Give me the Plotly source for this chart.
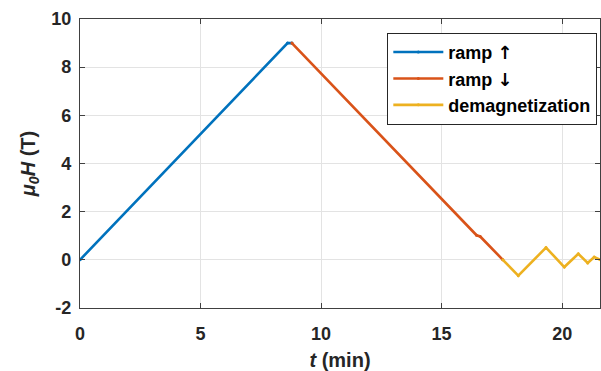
import plotly.graph_objects as go

# Data
t_up = [0.0, 8.61, 8.79]
h_up = [0.0, 9.0, 9.0]
t_down = [8.79, 16.45, 16.60, 17.54]
h_down = [9.0, 1.02, 0.97, 0.0]
t_demag = [17.54, 18.18, 19.33, 20.09, 20.67, 21.06, 21.33, 21.62]
h_demag = [0.0, -0.66, 0.51, -0.30, 0.25, -0.13, 0.12, -0.02]

x_ticks = [0, 5, 10, 15, 20]
y_ticks = [-2, 0, 2, 4, 6, 8, 10]
y_tick_labels = ["-2", "0", "2", "4", "6", "8", "10"]

blue = "#0072BD"
red = "#D95319"
yellow = "#EDB120"
axis_col = "#404040"
grid_col = "#E3E3E3"
font_family = "Liberation Sans, Arial, sans-serif"
arrow_style = "font-family:'DejaVu Sans'"

fig = go.Figure()
fig.add_trace(go.Scatter(x=t_up, y=h_up, mode="lines+markers",
                         name=f"<b>ramp <span style=\"{arrow_style}\">↑</span></b>",
                         line=dict(color=blue, width=2.6), marker=dict(size=3, color=blue)))
fig.add_trace(go.Scatter(x=t_down, y=h_down, mode="lines+markers",
                         name=f"<b>ramp <span style=\"{arrow_style}\">↓</span></b>",
                         line=dict(color=red, width=2.6), marker=dict(size=3, color=red)))
fig.add_trace(go.Scatter(x=t_demag, y=h_demag, mode="lines+markers", name="<b>demagnetization</b>",
                         line=dict(color=yellow, width=2.6), marker=dict(size=3, color=yellow)))

axis_common = dict(
    showline=True, linecolor=axis_col, linewidth=1.2, mirror="ticks",
    ticks="inside", ticklen=5, tickwidth=1, tickcolor=axis_col,
    showgrid=True, gridcolor=grid_col, gridwidth=1, zeroline=False,
    tickfont=dict(family=font_family, size=18, color="#262626", weight="bold"),
)

fig.update_layout(
    width=601, height=371,
    margin=dict(l=79.5, r=1, t=19, b=63),
    paper_bgcolor="white", plot_bgcolor="white",
    font=dict(family=font_family, color="#262626"),
    xaxis=dict(range=[0, 21.57], tickvals=x_ticks, ticklabelstandoff=9,
               title=dict(text="<b><i>t</i> (min)</b>", font=dict(size=20), standoff=12),
               **axis_common),
    yaxis=dict(range=[-2, 10], tickvals=y_ticks, ticktext=y_tick_labels, ticklabelstandoff=4,
               title=dict(text="<b><i>μ</i><sub><i>0</i></sub><i>H</i> (T)</b>", font=dict(size=20), standoff=10),
               **axis_common),
    legend=dict(x=0.591, y=0.952, xanchor="left", yanchor="top",
                bgcolor="white", bordercolor="#262626", borderwidth=1,
                font=dict(family=font_family, size=18, color="black"),
                tracegroupgap=0, itemwidth=50),
    showlegend=True,
)

fig.write_html("out.html")
